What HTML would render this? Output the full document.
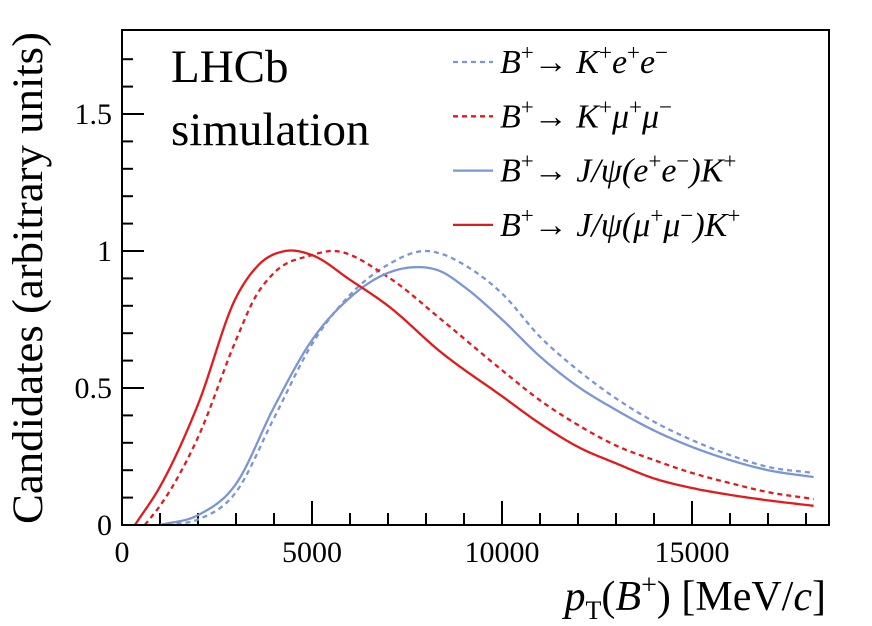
<!DOCTYPE html>
<html><head><meta charset="utf-8"><style>
body{margin:0;background:#fff;font-family:"Liberation Serif",serif}
svg{display:block}
text{font-family:"Liberation Serif",serif}
</style></head><body>
<svg width="872" height="626" font-family="Liberation Serif, serif">
<g id="plot"></g>
<rect x="122" y="30" width="707" height="495" fill="none" stroke="#000" stroke-width="2"/>
<text x="171" y="82" font-size="47">LHCb</text>
<text x="171" y="145" font-size="47">simulation</text>
<text transform="translate(42,278) rotate(-90)" text-anchor="middle" font-size="43" textLength="492" lengthAdjust="spacingAndGlyphs">Candidates (arbitrary units)</text>
<text x="826" y="610" text-anchor="end" font-size="42"><tspan font-style="italic">p</tspan><tspan font-size="26" dy="9">T</tspan><tspan dy="-9">(</tspan><tspan font-style="italic">B</tspan><tspan font-size="28" dy="-16">+</tspan><tspan dy="16">) [MeV/</tspan><tspan font-style="italic">c</tspan>]</text>
<g id="legend" font-size="34"></g>
</svg>
<script>
const xTicks=[0,5000,10000,15000];
const yTicks=[0,0.5,1,1.5];
const seriesNames=["B+→K+e+e−","B+→K+μ+μ−","B+→J/ψ(e+e−)K+","B+→J/ψ(μ+μ−)K+"];
const bdX=[1200,2000,3000,4000,5000,6000,7000,8000,8400,9000,10000,11000,12000,13000,14000,15000,16000,17000,18200];
const bdY=[0,0.02,0.12,0.39,0.66,0.84,0.95,1.0,0.99,0.95,0.845,0.687,0.565,0.462,0.377,0.31,0.255,0.212,0.19];
const rdX=[600,1000,2000,3000,3500,4000,5000,5500,7000,8400,10000,11000,12000,13000,14000,15000,16000,17000,18200];
const rdY=[0,0.07,0.32,0.675,0.83,0.92,0.985,1.0,0.905,0.75,0.565,0.455,0.365,0.29,0.237,0.19,0.153,0.12,0.095];
const bsX=[1000,2000,3000,4000,5000,6000,7000,7600,8400,9000,10000,11000,12000,13000,14000,15000,16000,17000,18200];
const bsY=[0,0.036,0.15,0.43,0.675,0.83,0.92,0.94,0.925,0.87,0.75,0.615,0.505,0.42,0.345,0.285,0.237,0.2,0.175];
const rsX=[340,1000,2000,3000,3600,4300,5000,6000,7000,8400,10000,11000,12000,13000,14000,15000,16000,17000,18200];
const rsY=[0,0.14,0.44,0.83,0.95,1.0,0.985,0.895,0.8,0.63,0.47,0.37,0.285,0.225,0.17,0.135,0.11,0.09,0.07];
const X=v=>122+v*0.038, Y=v=>525-v*274;
const NS="http://www.w3.org/2000/svg";
const g=document.getElementById('plot');
function mk(t,a,p){const e=document.createElementNS(NS,t);for(const k in a)e.setAttribute(k,a[k]);(p||g).appendChild(e);return e;}
for(let v=0;v<=18500;v+=1000){const big=v%5000===0;const t=mk('line',{x1:X(v),x2:X(v),y1:525,y2:525-(big?24:12),stroke:'#000','stroke-width':2});
}
for(let v=0;v<=1.75;v+=0.1){const vv=Math.round(v*10)/10;const big=Math.abs(vv*2-Math.round(vv*2))<1e-6;const t=mk('line',{x1:122,x2:122+(big?22:11),y1:Y(vv),y2:Y(vv),stroke:'#000','stroke-width':2});
}
xTicks.forEach(v=>{const t=mk('text',{x:X(v),y:562,'text-anchor':'middle','font-size':30});t.textContent=v;
});
yTicks.forEach(v=>{const t=mk('text',{x:112,y:Y(v)+10,'text-anchor':'end','font-size':30});t.textContent=v;
});
// cubic Hermite interpolation in data space with non-uniform finite-difference tangents
function path(xs,ys){const n=xs.length,m=[];
for(let i=0;i<n;i++){if(i===0)m.push((ys[1]-ys[0])/(xs[1]-xs[0]));else if(i===n-1)m.push((ys[n-1]-ys[n-2])/(xs[n-1]-xs[n-2]));
else{const d0=(ys[i]-ys[i-1])/(xs[i]-xs[i-1]),d1=(ys[i+1]-ys[i])/(xs[i+1]-xs[i]);const h0=xs[i]-xs[i-1],h1=xs[i+1]-xs[i];m.push((d0*h1+d1*h0)/(h0+h1));}}
let d=`M${X(xs[0]).toFixed(2)},${Y(ys[0]).toFixed(2)}`;
for(let i=0;i<n-1;i++){const h=xs[i+1]-xs[i];for(let k=1;k<=20;k++){const t=k/20,t2=t*t,t3=t2*t;
const y=(2*t3-3*t2+1)*ys[i]+(t3-2*t2+t)*h*m[i]+(-2*t3+3*t2)*ys[i+1]+(t3-t2)*h*m[i+1];
d+=` L${X(xs[i]+t*h).toFixed(2)},${Y(Math.max(0,y)).toFixed(2)}`;}}return d;}
const blue='#7b96d6',red='#e31a1c';
const ser=[[bdX,bdY,blue,'5,4','series-kee'],[rdX,rdY,red,'5,4','series-kmumu'],[bsX,bsY,blue,'','series-jpsi-ee'],[rsX,rsY,red,'','series-jpsi-mumu']];
ser.forEach(s=>{const e=mk('path',{d:path(s[0],s[1]),fill:'none',stroke:s[2],'stroke-width':2.3,'stroke-dasharray':s[3]});
});
const lg=document.getElementById('legend');
const up=c=>`<tspan font-size="23" dy="-13">${c}</tspan>`;
const it=c=>`<tspan font-style="italic" dy="13">${c}</tspan>`;
const head='<tspan font-style="italic">B</tspan>'+up('+')+'<tspan dy="13">→</tspan><tspan font-style="italic"> </tspan>';
const html=[
'<tspan font-style="italic">B</tspan>'+up('+')+'<tspan dy="13">→ </tspan><tspan font-style="italic">K</tspan>'+up('+')+it('e')+up('+')+it('e')+up('−'),
'<tspan font-style="italic">B</tspan>'+up('+')+'<tspan dy="13">→ </tspan><tspan font-style="italic">K</tspan>'+up('+')+it('μ')+up('+')+it('μ')+up('−'),
'<tspan font-style="italic">B</tspan>'+up('+')+'<tspan dy="13">→ </tspan><tspan font-style="italic">J/ψ(e</tspan>'+up('+')+it('e')+up('−')+it(')K')+up('+'),
'<tspan font-style="italic">B</tspan>'+up('+')+'<tspan dy="13">→ </tspan><tspan font-style="italic">J/ψ(μ</tspan>'+up('+')+it('μ')+up('−')+it(')K')+up('+')];
seriesNames.forEach((n,i)=>{const y=62+i*54.3;const s=ser[i];
const l=mk('line',{x1:453,x2:493,y1:y,y2:y,stroke:s[2],'stroke-width':2.3,'stroke-dasharray':s[3]},lg);

const t=mk('text',{x:500,y:y+11},lg);t.innerHTML=html[i];
});
</script>
</body></html>
